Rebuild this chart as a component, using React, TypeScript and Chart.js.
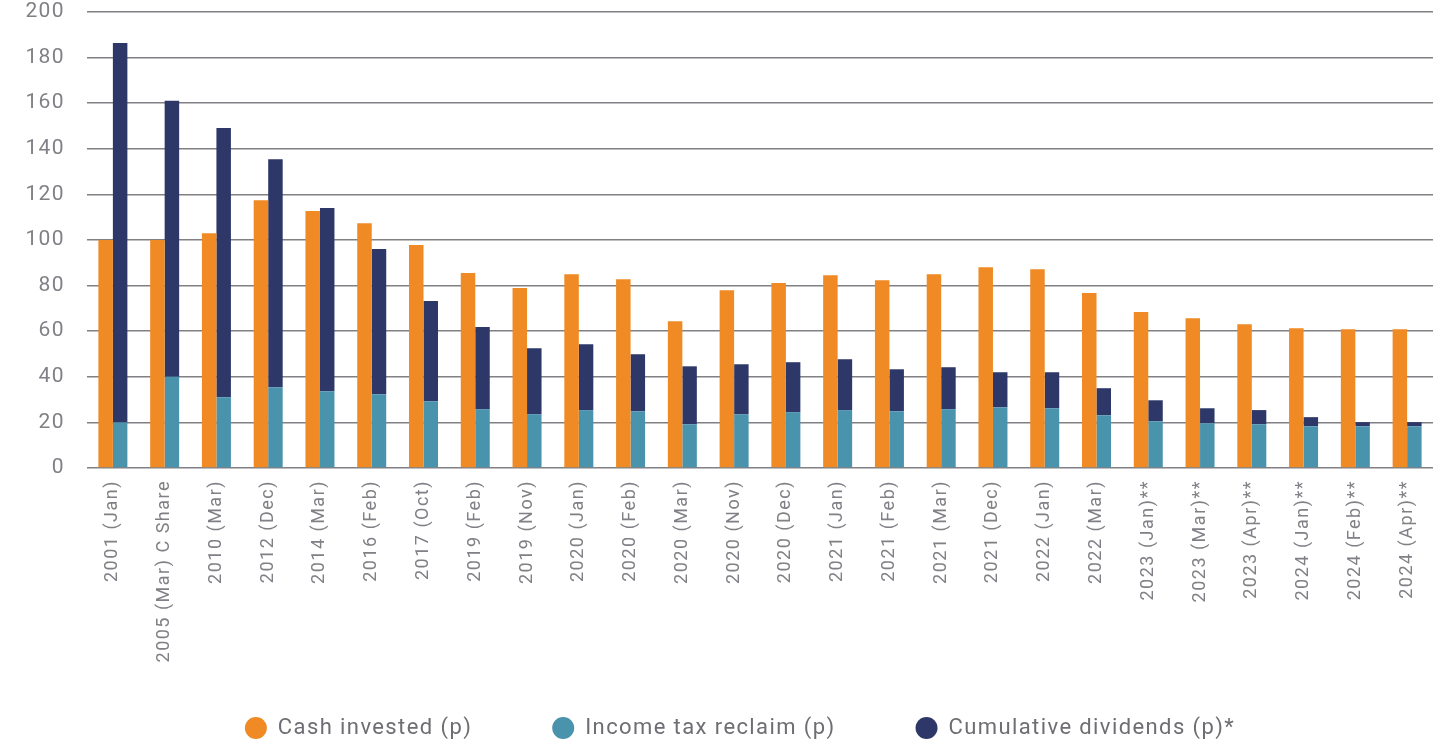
import React, { useEffect, useRef } from 'react';
import { Chart, registerables } from 'chart.js';

Chart.register(...registerables);

const categories = [
  '2001 (Jan)', '2005 (Mar) C Share', '2010 (Mar)', '2012 (Dec)', '2014 (Mar)', '2016 (Feb)',
  '2017 (Oct)', '2019 (Feb)', '2019 (Nov)', '2020 (Jan)', '2020 (Feb)', '2020 (Mar)',
  '2020 (Nov)', '2020 (Dec)', '2021 (Jan)', '2021 (Feb)', '2021 (Mar)', '2021 (Dec)',
  '2022 (Jan)', '2022 (Mar)', '2023 (Jan)**', '2023 (Mar)**', '2023 (Apr)**',
  '2024 (Jan)**', '2024 (Feb)**', '2024 (Apr)**',
];

const cashInvested = [
  100, 100, 103, 117.4, 112.7, 107.4, 97.8, 85.5, 78.9, 85, 82.8, 64.4, 78, 81.1,
  84.5, 82.4, 85, 88.1, 87.2, 76.7, 68.4, 65.7, 63.1, 61.3, 60.9, 60.9,
];

const incomeTaxReclaim = [
  20, 40, 31, 35.4, 33.7, 32.4, 29.3, 25.8, 23.6, 25.4, 24.9, 19.2, 23.6, 24.5,
  25.4, 24.9, 25.8, 26.6, 26.2, 23.1, 20.5, 19.6, 19.2, 18.3, 18.3, 18.3,
];

const cumulativeDividends = [
  166.4, 121.1, 118.1, 100, 80.3, 63.6, 43.9, 36, 28.9, 28.9, 25, 25.4, 21.9, 21.9,
  22.3, 18.4, 18.4, 15.4, 15.8, 11.9, 9.2, 6.6, 6.2, 4.0, 1.8, 1.8,
];

const seriesNames = ['Cash invested (p)', 'Income tax reclaim (p)', 'Cumulative dividends (p)*'];

const ORANGE = '#EF8A25';
const TEAL = '#4993AD';
const NAVY = '#2D3868';
const TICK = '#808186';

const LEGEND_PAD = 80;
const LEGEND_FONT = 22;
const LEGEND_CENTER_Y = 728;
const LEGEND_SHIFT_X = 14;

const layoutPlugin = {
  id: 'layoutTweaks',
  beforeLayout(chart: any) {
    chart.ctx.letterSpacing = '1.4px';
  },
  afterLayout(chart: any) {
    const lg: any = chart.legend;
    if (lg) {
      const top = LEGEND_CENTER_Y - LEGEND_PAD - LEGEND_FONT / 2;
      const h = LEGEND_FONT + LEGEND_PAD * 2 + 10;
      lg.top = top;
      lg.bottom = top + h;
      lg.height = h;
      lg.left += LEGEND_SHIFT_X;
      lg.right += LEGEND_SHIFT_X;
    }
  },
  beforeDraw(chart: any) {
    chart.ctx.letterSpacing = '1.4px';
    const xs: any = chart.scales.x;
    if (xs && !xs.__patched) {
      const orig = xs.drawLabels.bind(xs);
      xs.drawLabels = (area: any) => {
        const c = chart.ctx;
        c.save();
        c.letterSpacing = '1.5px';
        orig(area);
        c.restore();
      };
      xs.__patched = true;
    }
  },
};

export default function App() {
  const ref = useRef<HTMLCanvasElement | null>(null);

  useEffect(() => {
    document.body.style.margin = '0';
    const canvas = ref.current;
    if (!canvas) return;
    const chart = new Chart(canvas, {
      type: 'bar',
      data: {
        labels: categories,
        datasets: [
          { label: seriesNames[0], data: cashInvested, backgroundColor: ORANGE, stack: 'cash' },
          { label: seriesNames[1], data: incomeTaxReclaim, backgroundColor: TEAL, stack: 'returns' },
          { label: seriesNames[2], data: cumulativeDividends, backgroundColor: NAVY, stack: 'returns' },
        ],
      },
      options: {
        responsive: false,
        animation: false,
        devicePixelRatio: 1,
        datasets: { bar: { categoryPercentage: 0.56, barPercentage: 1 } },
        layout: { padding: { top: 12, left: 0, right: 0, bottom: 0 } },
        plugins: {
          tooltip: { enabled: false },
          legend: {
            position: 'bottom',
            maxHeight: 50,
            labels: {
              usePointStyle: true,
              pointStyle: 'circle',
              boxHeight: 15.5,
              pointStyleWidth: 22,
              padding: LEGEND_PAD,
              color: '#6d6e73',
              font: { family: 'Roboto', size: LEGEND_FONT },
            },
          },
        },
        scales: {
          x: {
            stacked: true,
            grid: { display: false, drawTicks: false },
            border: { display: false },
            ticks: {
              autoSkip: false,
              maxRotation: 90,
              minRotation: 90,
              padding: 12,
              color: TICK,
              font: { family: 'Roboto', size: 18 },
            },
            afterFit: (s: any) => { s.height = 228; },
          },
          y: {
            stacked: true,
            min: 0,
            max: 200,
            grid: { color: '#808085', lineWidth: 1.5, drawTicks: false },
            border: { display: false },
            ticks: {
              stepSize: 20,
              padding: 22,
              color: TICK,
              font: { family: 'Roboto', size: 21 },
            },
            afterFit: (s: any) => {
              s.width = 87;
              s.paddingTop = 0;
              s.paddingBottom = 0;
            },
          },
          y2: {
            position: 'right',
            display: true,
            grid: { display: false, drawTicks: false },
            border: { display: false },
            ticks: { display: false },
            afterFit: (s: any) => {
              s.width = 19;
              s.paddingTop = 0;
              s.paddingBottom = 0;
            },
          },
        },
      },
      plugins: [layoutPlugin],
    } as any);
    return () => chart.destroy();
  }, []);

  return <canvas ref={ref} width={1452} height={746} style={{ display: 'block' }} />;
}
